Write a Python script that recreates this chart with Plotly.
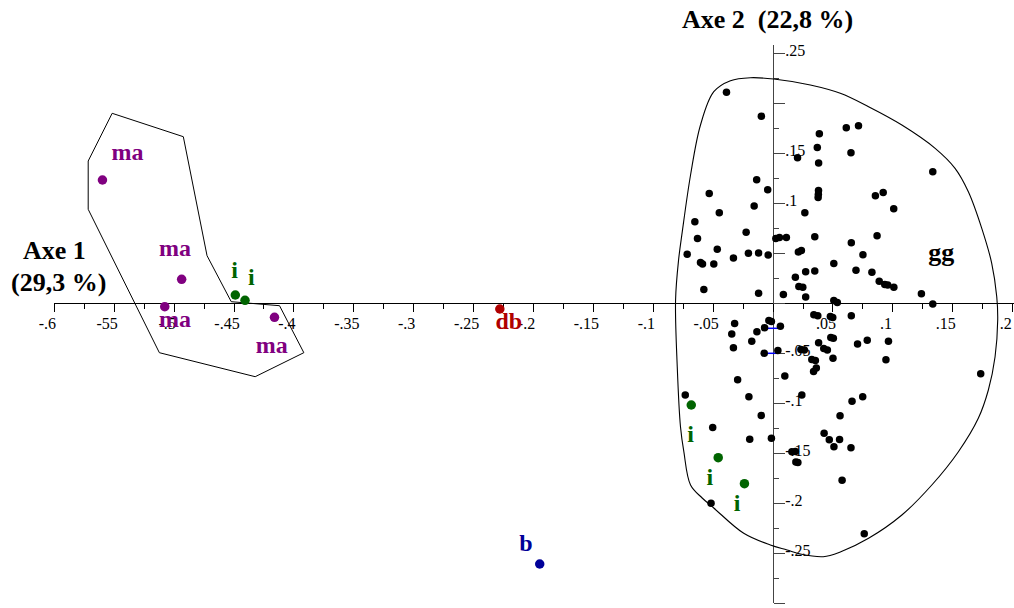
import plotly.graph_objects as go

# ---------------- data ----------------
# black points (group gg)
gg_x = [-0.0389, -0.0098, 0.0386, 0.0611, 0.0713, 0.0369, 0.065, 0.0204, 0.038, 0.1333,
        -0.0137, -0.0045, 0.0379, 0.0378, 0.0376, -0.0533, 0.0919, 0.0854, 0.1007, -0.0158,
        0.0265, -0.0449, -0.0653, -0.0631, -0.0225, 0.0023, 0.0053, 0.0111, 0.0348, 0.0868,
        0.0653, -0.0717, -0.0466, -0.0206, -0.0121, -0.0041, 0.0211, 0.0236, 0.075, -0.0606,
        -0.0589, -0.0495, -0.0331, 0.0507, 0.0272, 0.0348, 0.0692, 0.0825, 0.0886, 0.0932,
        0.0957, 0.1008, 0.0186, 0.0215, 0.0248, -0.0578, -0.0121, 0.0086, 0.0272, 0.1238,
        0.1333, 0.0507, 0.0536, 0.034, 0.0373, 0.0478, 0.0498, 0.0653, -0.0321, -0.0345,
        -0.0135, -0.0071, -0.0035, -0.0014, 0.0061, -0.0178, -0.0331, -0.0074, 0.004, 0.0232,
        0.0261, 0.038, 0.0423, 0.0453, 0.0482, 0.0503, 0.0705, 0.0786, 0.0963, 0.0942,
        0.0323, 0.0353, 0.05, 0.0338, 0.0361, 0.0098, -0.0296, 0.1733, -0.0733, -0.0202,
        0.024, 0.0659, 0.0748, -0.0099, 0.0559, -0.0504, -0.0195, -0.0014, 0.0426, 0.0469,
        0.0555, 0.0508, 0.065, 0.0157, 0.0186, 0.019, 0.0207, 0.0576, -0.0518, 0.0761]
gg_y = [0.211, 0.1871, 0.1695, 0.1756, 0.1776, 0.1558, 0.1505, 0.1456, 0.1403, 0.1315,
        0.1235, 0.1136, 0.1129, 0.1091, 0.1058, 0.1098, 0.1108, 0.1075, 0.0945, 0.0972,
        0.0905, 0.0906, 0.0816, 0.0648, 0.071, 0.0648, 0.0658, 0.0658, 0.0666, 0.0675,
        0.0606, 0.049, 0.054, 0.05, 0.0503, 0.0483, 0.0513, 0.0528, 0.0485, 0.0408,
        0.0393, 0.0393, 0.0453, 0.0398, 0.0316, 0.0323, 0.033, 0.0311, 0.0221, 0.0188,
        0.0183, 0.016, 0.0261, 0.0168, 0.0161, 0.0138, 0.0101, 0.0088, 0.0063, 0.0096,
        -0.0007, 0.0028, 0.0008, -0.0115, -0.0125, -0.0132, -0.0142, -0.0124, -0.0202, -0.0307,
        -0.0285, -0.0244, -0.0172, -0.0182, -0.0229, -0.0379, -0.0444, -0.0499, -0.0471, -0.0462,
        -0.0467, -0.0394, -0.0452, -0.0467, -0.0342, -0.035, -0.0407, -0.0369, -0.038, -0.0565,
        -0.0562, -0.0572, -0.0549, -0.0682, -0.0647, -0.0727, -0.0764, -0.0704, -0.0917, -0.0934,
        -0.0917, -0.098, -0.0935, -0.1122, -0.1124, -0.1242, -0.136, -0.1349, -0.1299, -0.1365,
        -0.1362, -0.1434, -0.1444, -0.1484, -0.1482, -0.1587, -0.1592, -0.1769, -0.1999, -0.2305]

# purple points (ma)
ma_x = [-0.5598, -0.4937, -0.5078, -0.4162]
ma_y = [0.1233, 0.024, -0.0034, -0.014]
# green points (i)
i_x = [-0.4489, -0.4408, -0.0683, -0.0458, -0.0239]
i_y = [0.0083, 0.003, -0.1017, -0.1544, -0.1804]
# db and b
db_x, db_y = [-0.2281], [-0.0057]
b_x, b_y = [-0.1948], [-0.2607]

# text label positions
ma_lab_x = [-0.5389, -0.4992, -0.4992, -0.4185]
ma_lab_y = [0.1496, 0.0533, -0.0174, -0.0434]
i_lab_x = [-0.4495, -0.4356, -0.0689, -0.0528, -0.03]
i_lab_y = [0.0313, 0.0243, -0.1327, -0.1754, -0.2019]
db_lab = (-0.2206, -0.0197)
b_lab = (-0.2064, -0.2417)
gg_lab = (0.1403, 0.0483)

# hull around "ma"
hull_ma_x = [-0.5517, -0.4923, -0.4725, -0.4523, -0.412, -0.3917, -0.4323, -0.5123, -0.5717, -0.5717, -0.5517]
hull_ma_y = [0.19, 0.1666, 0.0476, 0.0016, -0.0024, -0.0494, -0.0734, -0.0494, 0.094, 0.1423, 0.19]

# smooth envelope around "gg"
env_x = [-0.0814, -0.0789, -0.0758, -0.0689, -0.0606, -0.0495, -0.0356, -0.0189, 0.0005, 0.0311,
         0.0561, 0.0797, 0.1075, 0.1353, 0.1519, 0.163, 0.1742, 0.1825, 0.1867, 0.1875,
         0.1853, 0.1797, 0.1713, 0.1547, 0.1325, 0.1075, 0.0797, 0.0561, 0.0419, 0.0228,
         0.0117, -0.0023, -0.0245, -0.0495, -0.0592, -0.0689, -0.0745, -0.0773, -0.08, -0.0814]
env_y = [0.0033, 0.0433, 0.0716, 0.1283, 0.1783, 0.2116, 0.2226, 0.2256, 0.2243, 0.2183,
         0.21, 0.1966, 0.1783, 0.155, 0.135, 0.1116, 0.075, 0.04, 0.0066, -0.0167,
         -0.0534, -0.0867, -0.115, -0.1484, -0.1817, -0.2117, -0.235, -0.2487, -0.2534, -0.2507,
         -0.2467, -0.2417, -0.23, -0.2047, -0.1947, -0.1817, -0.1484, -0.1234, -0.0634, 0.0033]

# small blue marks near the vertical axis
blue_mark_y = [-0.025, -0.05]
blue_mark_x = [-0.0065, 0.004]

# axis ticks
x_major = [-0.6, -0.55, -0.5, -0.45, -0.4, -0.35, -0.3, -0.25, -0.2, -0.15, -0.1, -0.05, 0.0, 0.05, 0.1, 0.15, 0.2]
x_labels = ["-.6", "-55", "-.5", "-.45", "-.4", "-.35", "-.3", "-.25", "-.2", "-.15", "-.1", "-.05", "", ".05", ".1", ".15", ".2"]
x_minor = [-0.575, -0.525, -0.475, -0.425, -0.375, -0.325, -0.275, -0.225, -0.175, -0.125, -0.075, -0.025, 0.025, 0.075, 0.125, 0.175]
y_major = [-0.3, -0.25, -0.2, -0.15, -0.1, -0.05, 0.0, 0.05, 0.1, 0.15, 0.2, 0.25]
y_labels = ["-.3", "-.25", "-.2", "-.15", "-.1", "-.05", "", "", ".1", ".15", "", ".25"]
y_minor = [-0.275, -0.225, -0.175, -0.125, -0.075, -0.025, 0.025, 0.075, 0.125, 0.175, 0.225]

# ---------------- figure ----------------
W, H = 1014, 608
X_LEFT_PX = 54.3
X_MIN, X_MAX = -0.6, 0.2011
Y_MIN, Y_MAX = -0.3, 0.258
Y_DOM = [4.7 / H, (H - 45.3) / H]
X_DOM = [X_LEFT_PX / W, 1.0]
x_zero_paper = X_DOM[0] + (0 - X_MIN) / (X_MAX - X_MIN) * (X_DOM[1] - X_DOM[0])
y_zero_paper = Y_DOM[0] + (0 - Y_MIN) / (Y_MAX - Y_MIN) * (Y_DOM[1] - Y_DOM[0])

SERIF = "Liberation Serif, Times New Roman, serif"
PURPLE = "#800080"
GREEN = "#006400"
RED = "#b00000"
BLUE = "#000099"

fig = go.Figure()

fig.add_trace(go.Scatter(x=env_x, y=env_y, mode="lines",
                         line=dict(color="black", width=1.1, shape="spline", smoothing=1.0),
                         hoverinfo="skip"))
fig.add_trace(go.Scatter(x=hull_ma_x, y=hull_ma_y, mode="lines",
                         line=dict(color="black", width=1), hoverinfo="skip"))
for yb in blue_mark_y:
    fig.add_trace(go.Scatter(x=blue_mark_x, y=[yb, yb], mode="lines",
                             line=dict(color="#0000ff", width=1.5), hoverinfo="skip"))

fig.add_trace(go.Scatter(x=gg_x, y=gg_y, mode="markers",
                         marker=dict(color="black", size=7.5, line=dict(width=0))))
fig.add_trace(go.Scatter(x=ma_x, y=ma_y, mode="markers",
                         marker=dict(color=PURPLE, size=9.5, line=dict(width=0))))
fig.add_trace(go.Scatter(x=i_x, y=i_y, mode="markers",
                         marker=dict(color=GREEN, size=9.5, line=dict(width=0))))
fig.add_trace(go.Scatter(x=db_x, y=db_y, mode="markers",
                         marker=dict(color=RED, size=9.5, line=dict(width=0))))
fig.add_trace(go.Scatter(x=b_x, y=b_y, mode="markers",
                         marker=dict(color=BLUE, size=9.5, line=dict(width=0))))

def labels(xs, ys, txt, color, size=24):
    fig.add_trace(go.Scatter(x=xs, y=ys, mode="text", text=[f"<b>{txt}</b>"] * len(xs),
                             textposition="middle center", cliponaxis=False,
                             textfont=dict(family=SERIF, size=size, color=color),
                             hoverinfo="skip"))

labels(ma_lab_x, ma_lab_y, "ma", PURPLE)
labels(i_lab_x, i_lab_y, "i", GREEN)
labels([db_lab[0]], [db_lab[1]], "db", RED)
labels([b_lab[0]], [b_lab[1]], "b", BLUE)
labels([gg_lab[0]], [gg_lab[1]], "gg", "black", 26)

tickfont = dict(family=SERIF, size=16, color="black")
common = dict(showgrid=False, zeroline=False, layer="below traces", fixedrange=True,
              automargin=False)

fig.update_layout(
    width=W, height=H, autosize=False,
    margin=dict(l=0, r=0, t=0, b=0, pad=0, autoexpand=False),
    paper_bgcolor="white", plot_bgcolor="white", showlegend=False,
    xaxis=dict(domain=X_DOM, range=[X_MIN, X_MAX], anchor="free", position=y_zero_paper,
               side="bottom", showline=True, linecolor="black", linewidth=1,
               tickmode="array", tickvals=x_major, ticktext=x_labels,
               ticks="outside", ticklen=8, tickwidth=1, tickcolor="black",
               minor=dict(tickmode="array", tickvals=x_minor, ticks="outside", ticklen=5,
                          tickwidth=1, tickcolor="black"),
               tickfont=tickfont, ticklabelshift=-7, ticklabelstandoff=-3, **common),
    xaxis2=dict(overlaying="x", range=[X_MIN, X_MAX], anchor="free", position=y_zero_paper,
                side="top", showline=False, showticklabels=False,
                tickmode="array", tickvals=x_major,
                ticks="outside", ticklen=8, tickwidth=1, tickcolor="black",
                minor=dict(tickmode="array", tickvals=x_minor, ticks="outside", ticklen=5,
                           tickwidth=1, tickcolor="black"), **common),
    yaxis=dict(domain=Y_DOM, range=[Y_MIN, Y_MAX], anchor="free", position=x_zero_paper,
               side="right", showline=True, linecolor="#444", linewidth=1,
               tickmode="array", tickvals=y_major, ticktext=y_labels,
               ticks="outside", ticklen=11, tickwidth=1, tickcolor="#444",
               minor=dict(tickmode="array", tickvals=y_minor, ticks="outside", ticklen=5,
                          tickwidth=1, tickcolor="#444"),
               tickfont=tickfont, ticklabelshift=-3, ticklabelstandoff=-3, **common),
    yaxis2=dict(overlaying="y", range=[Y_MIN, Y_MAX], anchor="free", position=x_zero_paper,
                side="left", showline=False, showticklabels=False,
                tickmode="array", tickvals=y_major,
                ticks="outside", ticklen=11, tickwidth=1, tickcolor="#444",
                minor=dict(tickmode="array", tickvals=y_minor, ticks="outside", ticklen=5,
                           tickwidth=1, tickcolor="#444"), **common),
)

title_font = dict(family=SERIF, size=26, color="black")
fig.add_annotation(text="<b>Axe 2\u00a0\u00a0(22,8 %)</b>", xref="paper", yref="paper",
                   x=767 / W, y=(H - 19) / H, xanchor="center", yanchor="middle",
                   showarrow=False, font=title_font)
fig.add_annotation(text="<b>Axe 1</b>", xref="paper", yref="paper",
                   x=54 / W, y=(H - 251) / H, xanchor="center", yanchor="middle",
                   showarrow=False, font=title_font)
fig.add_annotation(text="<b>(29,3 %)</b>", xref="paper", yref="paper",
                   x=58 / W, y=(H - 282) / H, xanchor="center", yanchor="middle",
                   showarrow=False, font=title_font)

fig.write_html("out.html", config={"responsive": False, "displayModeBar": False},
               post_script="document.body.style.margin='0';document.body.style.overflow='hidden';")
